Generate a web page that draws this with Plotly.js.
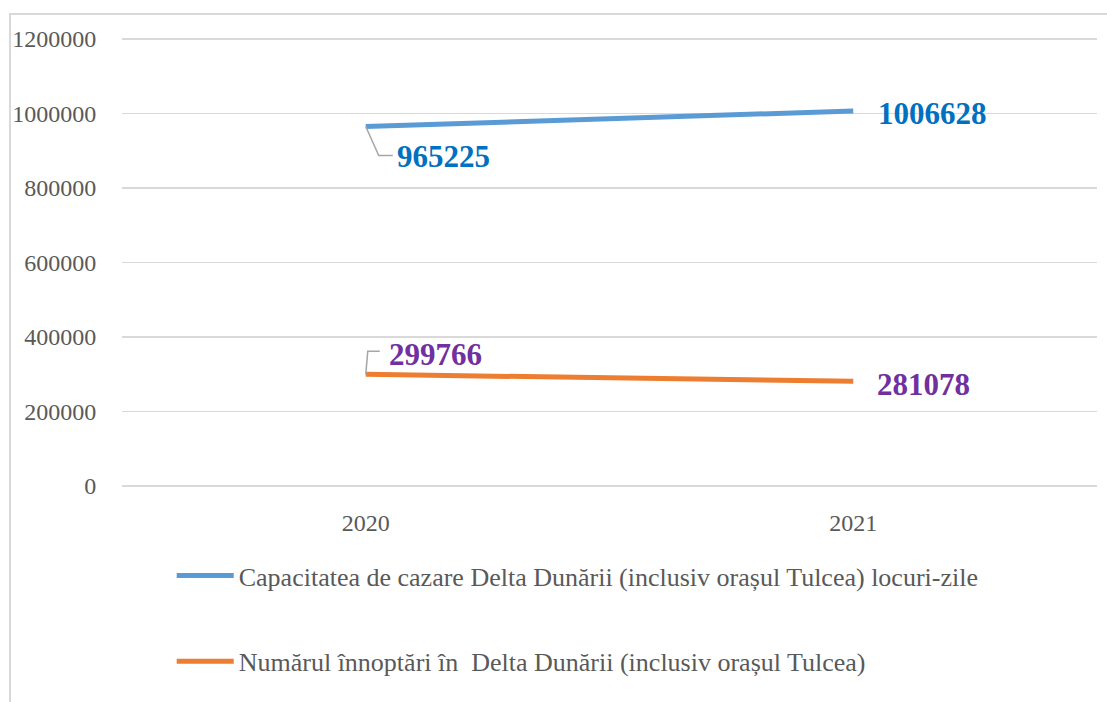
<!DOCTYPE html>
<html>
<head>
<meta charset="utf-8">
<script src="https://cdn.plot.ly/plotly-3.0.1.min.js"></script>
<style>
html,body{margin:0;padding:0;background:#fff;}
#frame{position:absolute;left:9px;top:13px;width:1100px;height:700px;border-left:2px solid #d9d9d9;border-top:2px solid #d9d9d9;}
#chart{position:absolute;left:0;top:0;width:1107px;height:702px;}
</style>
</head>
<body>
<div id="frame"></div>
<div id="chart"></div>
<script>
var years = ['2020', '2021'];
var capacitate = [965225, 1006628];
var innoptari = [299766, 281078];
var seriesNames = [
  'Capacitatea de cazare Delta Dunării (inclusiv orașul Tulcea) locuri-zile',
  'Numărul înnoptări în  Delta Dunării (inclusiv orașul Tulcea)'
];
var yTicks = [0, 200000, 400000, 600000, 800000, 1000000, 1200000];

var font = 'Liberation Serif, "Times New Roman", serif';

var traces = [
  {x: years, y: capacitate, name: seriesNames[0], type: 'scatter', mode: 'lines',
   line: {color: '#5B9BD5', width: 5}, legendgroup: 'a', hoverinfo: 'x+y'},
  {x: years, y: innoptari, name: seriesNames[1], type: 'scatter', mode: 'lines',
   line: {color: '#ED7D31', width: 5}, legendgroup: 'b', hoverinfo: 'x+y'}
];

// category serial number (0 = first year) used to place labels on the category axis
function lbl(i, y, color, dx, dy) {
  return {x: i, y: y, xref: 'x', yref: 'y', text: '<b>' + String(y) + '</b>', showarrow: false,
    xshift: dx, yshift: dy, font: {family: font, size: 31, color: color}};
}
var annotations = [
  lbl(0, capacitate[0], '#0070C0', 78, -30),
  lbl(1, capacitate[1], '#0070C0', 79, -2),
  lbl(0, innoptari[0], '#7030A0', 70, 20),
  lbl(1, innoptari[1], '#7030A0', 70, -3)
];

var shapes = [
  {type: 'path', xref: 'x', yref: 'y', xsizemode: 'pixel', ysizemode: 'pixel',
   xanchor: 0, yanchor: capacitate[0], path: 'M0,0L13,-29L27,-29',
   line: {color: '#A6A6A6', width: 1.5}},
  {type: 'path', xref: 'x', yref: 'y', xsizemode: 'pixel', ysizemode: 'pixel',
   xanchor: 0, yanchor: innoptari[0], path: 'M0,0L2,23L14,23',
   line: {color: '#A6A6A6', width: 1.5}}
];

var layout = {
  width: 1107, height: 702,
  margin: {l: 122, r: 10, t: 37, b: 214, pad: 0, autoexpand: false},
  paper_bgcolor: 'rgba(0,0,0,0)', plot_bgcolor: 'rgba(0,0,0,0)',
  font: {family: font, color: '#595959', size: 24},
  showlegend: true,
  xaxis: {type: 'category', range: [-0.5, 1.5], showgrid: false, zeroline: false,
    showline: false, ticks: 'outside', ticklen: 13, tickcolor: 'rgba(0,0,0,0)',
    tickfont: {size: 24, color: '#595959'}, fixedrange: true},
  yaxis: {range: [-5369, 1205369], tickvals: yTicks, ticktext: yTicks.map(String),
    showgrid: true, gridcolor: '#D9D9D9', gridwidth: 1.5, zeroline: false, showline: false,
    ticks: 'outside', ticklen: 20, tickcolor: 'rgba(0,0,0,0)',
    tickfont: {size: 24, color: '#595959'}, fixedrange: true},
  legend: {x: 0.051, y: -0.142, xanchor: 'left', yanchor: 'top', orientation: 'v',
    font: {size: 26, color: '#595959'}, tracegroupgap: 49, itemwidth: 57,
    bgcolor: 'rgba(0,0,0,0)'},
  annotations: annotations,
  shapes: shapes
};

Plotly.newPlot('chart', traces, layout, {displayModeBar: false, staticPlot: true});
</script>
</body>
</html>
